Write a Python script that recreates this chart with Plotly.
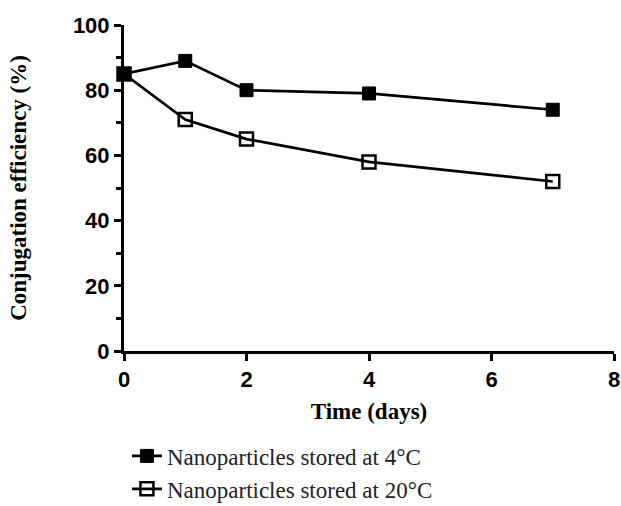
import plotly.graph_objects as go

days = [0, 1, 2, 4, 7]
eff_4c = [85, 89, 80, 79, 74]
eff_20c = [85, 71, 65, 58, 52]
name_4c = "Nanoparticles stored at 4°C"
name_20c = "Nanoparticles stored at 20°C"
x_ticks = [0, 2, 4, 6, 8]
y_ticks = [0, 20, 40, 60, 80, 100]

fig = go.Figure()
fig.add_trace(go.Scatter(
    x=days, y=eff_4c, name=name_4c, mode="lines+markers",
    line=dict(color="black", width=2.7),
    marker=dict(symbol="square", size=13, color="black", line=dict(color="black", width=1)),
    legendgroup="a", cliponaxis=False))
fig.add_trace(go.Scatter(
    x=days, y=eff_20c, name=name_20c, mode="lines+markers",
    line=dict(color="black", width=2.7),
    marker=dict(symbol="square-open", size=13, color="black", line=dict(color="black", width=2.5)),
    legendgroup="b", cliponaxis=False))

axis_common = dict(
    showline=True, linecolor="black", linewidth=3, ticks="outside", ticklen=7,
    tickwidth=2.5, tickcolor="black", showgrid=False, zeroline=False, automargin=False,
    tickfont=dict(family="Liberation Sans", size=22, color="black", weight="bold"),
)

fig.update_xaxes(
    range=[0, 8], tickvals=x_ticks, **axis_common,
    title=dict(text="<b>Time (days)</b>", font=dict(family="Liberation Serif", size=23, color="black"), standoff=12),
)
fig.update_yaxes(
    range=[0, 100], tickvals=y_ticks, **axis_common,
    minor=dict(tickvals=[10, 30, 50, 70, 90], ticks="outside", ticklen=5, tickwidth=2.5, tickcolor="black"),
    title=dict(text="<b>Conjugation efficiency (%)</b>", font=dict(family="Liberation Serif", size=23, color="black"), standoff=40),
)

fig.update_layout(
    width=621, height=506,
    margin=dict(l=124, r=7, t=25, b=155, autoexpand=False),
    plot_bgcolor="white", paper_bgcolor="white",
    showlegend=True,
    legend=dict(
        x=0.006, y=-0.256, xanchor="left", yanchor="top",
        font=dict(family="Liberation Serif", size=23, color="#222"),
        tracegroupgap=0, bgcolor="rgba(0,0,0,0)",
    ),
)

fig.write_html("out.html", config={"displayModeBar": False},
               post_script="document.body.style.margin='0';document.body.style.overflow='hidden';")
